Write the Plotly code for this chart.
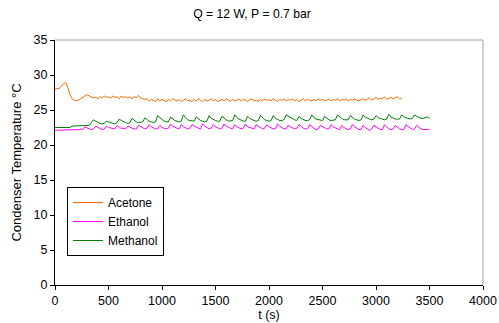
import plotly.graph_objects as go

# ---- data (sampled every 20 s) ----
step_s = 20
acetone = [
    28.0, 28.0, 28.1, 28.4, 28.8, 28.9, 28.2, 27.2, 26.6, 26.4, 26.3, 26.4, 26.6, 26.8, 27.0, 27.2,
    27.0, 26.9, 26.7, 26.8, 26.6, 26.9, 26.7, 27.0, 26.8, 26.9, 26.7, 27.0, 26.8, 26.9, 26.6, 27.0,
    26.8, 26.9, 26.7, 26.9, 26.6, 26.9, 26.8, 27.1, 26.7,
    26.6, 26.5, 26.6, 26.3, 26.5, 26.4, 26.2, 26.6, 26.3, 26.5,
    26.4, 26.2, 26.5, 26.3, 26.6, 26.4, 26.3, 26.5, 26.2, 26.4,
    26.6, 26.3, 26.4, 26.2, 26.5, 26.3, 26.6, 26.4, 26.2, 26.5,
    26.3, 26.4, 26.6, 26.3, 26.5, 26.2, 26.4, 26.5, 26.3, 26.6,
    26.4, 26.2, 26.5, 26.3, 26.4, 26.6, 26.3, 26.5, 26.4, 26.2,
    26.5, 26.6, 26.3, 26.4, 26.2, 26.5, 26.3, 26.6, 26.4, 26.5,
    26.3, 26.6, 26.4, 26.2, 26.5, 26.4, 26.6, 26.3, 26.5, 26.4,
    26.6, 26.3, 26.5, 26.2, 26.4, 26.6, 26.3, 26.5, 26.4, 26.3,
    26.5, 26.3, 26.6, 26.4, 26.5, 26.3, 26.4, 26.6, 26.3, 26.5,
    26.4, 26.6, 26.3, 26.5, 26.4, 26.6, 26.3, 26.5, 26.4, 26.6,
    26.4, 26.3, 26.5, 26.6, 26.4,
    26.5, 26.7, 26.4, 26.6, 26.8, 26.5, 26.7, 26.6, 26.9, 26.5, 26.7, 26.8, 26.6, 26.8, 26.9, 26.6, 26.7,
]

ethanol = [
    22.1, 22.1, 22.1, 22.1, 22.2, 22.1, 22.2, 22.2, 22.2, 22.1, 22.2, 22.2, 22.3,
    22.2, 22.6, 22.4, 22.3, 22.2,
    22.3, 22.7, 22.5, 22.3, 22.2,
    22.3, 22.7, 22.5, 22.4, 22.3,
    22.3, 22.8, 22.5, 22.4, 22.3,
    22.3, 22.7, 22.5, 22.4, 22.3,
    22.3, 22.8, 22.6, 22.4, 22.3,
    22.4, 22.9, 22.6, 22.4, 22.3,
    22.3, 22.8, 22.5, 22.4, 22.3,
    22.4, 23.0, 22.7, 22.5, 22.4,
    22.3, 22.9, 22.6, 22.4, 22.3,
    22.4, 22.9, 22.7, 22.5, 22.4,
    22.3, 23.0, 22.7, 22.5, 22.3,
    22.4, 22.9, 22.6, 22.4, 22.3,
    22.4, 23.0, 22.7, 22.5, 22.4,
    22.3, 22.9, 22.6, 22.4, 22.3,
    22.4, 23.0, 22.6, 22.5, 22.3,
    22.3, 22.9, 22.7, 22.4, 22.3,
    22.4, 22.9, 22.6, 22.4, 22.3,
    22.3, 23.0, 22.7, 22.5, 22.3,
    22.3, 22.8, 22.6, 22.4, 22.3,
    22.4, 22.9, 22.7, 22.4, 22.3,
    22.3, 22.9, 22.6, 22.4, 22.2,
    22.3, 22.8, 22.6, 22.4, 22.3,
    22.3, 22.9, 22.6, 22.4, 22.3,
    22.2, 22.8, 22.5, 22.3, 22.2,
    22.3, 22.9, 22.6, 22.4, 22.2,
    22.2, 22.8, 22.5, 22.3, 22.1,
    22.3, 22.8, 22.6, 22.4, 22.2,
    22.2, 22.9, 22.6, 22.3, 22.2,
    22.3, 22.8, 22.5, 22.3, 22.2,
    22.2, 22.9, 22.6, 22.4, 22.2,
    22.3, 22.8, 22.5, 22.3, 22.2,
    22.2, 22.3, 22.2,
]

methanol = [
    22.5, 22.5, 22.5, 22.5, 22.6, 22.6, 22.5, 22.5,
    22.7, 22.7, 22.7, 22.7, 22.7, 22.8, 22.7, 22.8, 22.8,
    23.2, 23.6, 23.4, 23.2, 23.1, 23.0,
    23.1, 23.4, 23.3, 23.1, 23.0, 23.0,
    23.2, 23.7, 23.5, 23.3, 23.2, 23.1,
    23.2, 23.8, 23.5, 23.3, 23.2, 23.2,
    23.3, 23.9, 23.6, 23.4, 23.3, 23.2,
    23.3, 24.2, 23.9, 23.6, 23.4, 23.3,
    23.3, 24.0, 23.7, 23.5, 23.4, 23.3,
    23.4, 24.3, 23.9, 23.6, 23.5, 23.4,
    23.4, 24.0, 23.7, 23.5, 23.4, 23.3,
    23.4, 24.2, 23.8, 23.6, 23.5, 23.4,
    23.4, 24.1, 23.8, 23.6, 23.4, 23.4,
    23.5, 24.3, 23.9, 23.7, 23.5, 23.4,
    23.4, 24.1, 23.8, 23.6, 23.5, 23.4,
    23.5, 24.2, 23.9, 23.6, 23.5, 23.4,
    23.5, 24.2, 23.8, 23.6, 23.5, 23.5,
    23.6, 24.3, 24.1, 23.9, 23.7, 23.6,
    23.5, 24.1, 23.8, 23.6, 23.5, 23.5,
    23.6, 24.3, 23.9, 23.7, 23.6, 23.5,
    23.5, 24.1, 23.8, 23.6, 23.5, 23.5,
    23.6, 24.3, 24.0, 23.8, 23.6, 23.6,
    23.6, 24.2, 23.9, 23.7, 23.6, 23.5,
    23.6, 24.3, 24.0, 23.8, 23.7, 23.6,
    23.7, 24.2, 23.9, 23.8, 23.7, 23.6,
    23.7, 24.4, 24.0, 23.8, 23.7, 23.7,
    23.7, 24.3, 24.0, 23.9, 23.8, 23.7,
    23.8, 24.3, 24.1, 23.9, 23.8, 23.8,
    23.9, 24.0, 23.8,
]

series_names = ["Acetone", "Ethanol", "Methanol"]
series_values = [acetone, ethanol, methanol]
series_colors = ["#FF6600", "#FF00FF", "#008000"]

x_ticks = [0, 500, 1000, 1500, 2000, 2500, 3000, 3500, 4000]
y_ticks = [0, 5, 10, 15, 20, 25, 30, 35]

FONT = "Arial, Liberation Sans, sans-serif"

fig = go.Figure()
for name, vals, col in zip(series_names, series_values, series_colors):
    t = [i * step_s for i in range(len(vals))]
    fig.add_trace(go.Scatter(x=t, y=vals, mode="lines", name=name,
                             line=dict(color=col, width=1)))

fig.update_layout(
    width=499, height=323,
    margin=dict(l=55, r=16, t=40, b=38),
    paper_bgcolor="white", plot_bgcolor="white",
    font=dict(family=FONT, size=12, color="black"),
    title=dict(text="Q = 12 W, P = 0.7 bar", x=252 / 499, xanchor="center",
               y=1 - 14 / 323, yanchor="middle", font=dict(size=12.2)),
    showlegend=True,
    legend=dict(x=0.028, y=0.40, xanchor="left", yanchor="top",
                bordercolor="black", borderwidth=1, bgcolor="white",
                font=dict(size=12), itemwidth=30, tracegroupgap=0),
    xaxis=dict(range=[0, 4000], tickvals=x_ticks, showgrid=False, zeroline=False,
               showline=True, linecolor="black", linewidth=1, automargin=False,
               ticks="outside", ticklen=4, tickcolor="black",
               tickfont=dict(size=12.5),
               title=dict(text="t (s)", standoff=2, font=dict(size=12.5))),
    yaxis=dict(range=[0, 35], tickvals=y_ticks, showgrid=False, zeroline=False,
               showline=True, linecolor="black", linewidth=1, automargin=False,
               ticks="outside", ticklen=4, tickcolor="black",
               tickfont=dict(size=12.5),
               title=dict(text="Condenser Temperature °C", standoff=9, font=dict(size=13))),
    shapes=[
        dict(type="line", xref="paper", yref="paper", x0=0, x1=1, y0=1, y1=1,
             line=dict(color="#A0A0A0", width=1)),
        dict(type="line", xref="paper", yref="paper", x0=1, x1=1, y0=0, y1=1,
             line=dict(color="#A0A0A0", width=1)),
    ],
)

fig.write_html("out.html", config={"displayModeBar": False},
               post_script="document.body.style.margin='0';document.body.style.padding='0';")
